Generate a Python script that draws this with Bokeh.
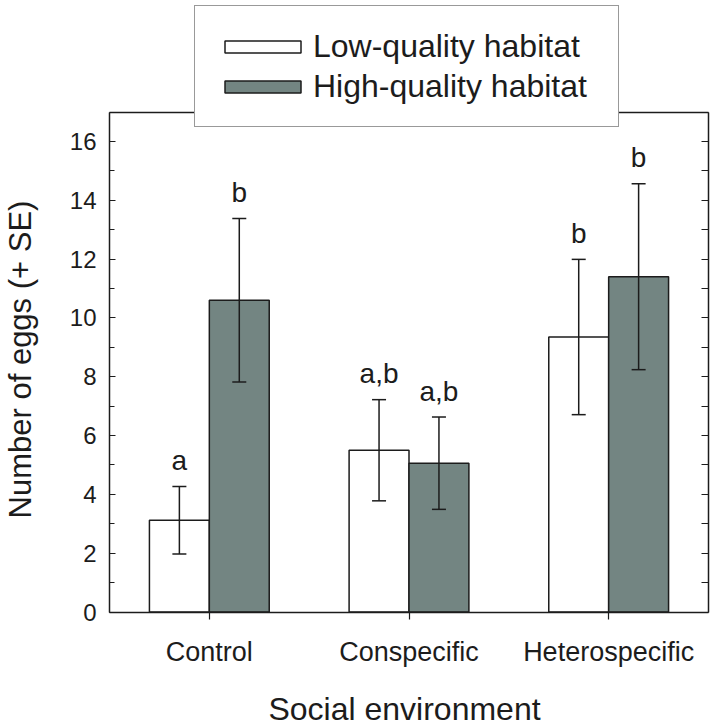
import math
from bokeh.plotting import figure
from bokeh.models import (ColumnDataSource, Range1d, LinearAxis, FixedTicker,
                          SingleIntervalTicker, Legend, LegendItem, Label)
from bokeh.transform import dodge
from bokeh.core.properties import value
from bokeh.embed import file_html
from bokeh.resources import INLINE

# ---- data ----
categories = ["Control", "Conspecific", "Heterospecific"]
series_names = ["Low-quality habitat", "High-quality habitat"]
low_mean = [3.12, 5.50, 9.35]
low_se = [1.15, 1.72, 2.64]
high_mean = [10.60, 5.06, 11.40]
high_se = [2.78, 1.57, 3.16]
low_letters = ["a", "a,b", "b"]
high_letters = ["b", "a,b", "b"]
x_title = "Social environment"
y_title = "Number of eggs (+ SE)"
y_min, y_max = 0, 17

FONT = "Liberation Sans"
INK = "#1c1c1c"
GREY = "#738582"

# ---- layout (pixels on the canvas) ----
W, H = 717, 727
LEFT_PX, RIGHT_PX = 109, 708          # frame left / right edges
ZERO_PX, PX_PER_UNIT = 611.5, 29.41   # y=0 line and vertical scale
n = len(categories)
xs = (RIGHT_PX - LEFT_PX) / n
x_start = -LEFT_PX / xs
x_end = n + (W - RIGHT_PX) / xs
y_start = -(H - ZERO_PX) / PX_PER_UNIT
y_end = ZERO_PX / PX_PER_UNIT

def xdata(px):
    return x_start + px / xs

def ydata(px):
    return (ZERO_PX - px) / PX_PER_UNIT

centers = [i + 0.5 for i in range(n)]

def make_src(means, ses, letters):
    return ColumnDataSource(dict(
        x=centers, top=means,
        upper=[m + s for m, s in zip(means, ses)],
        lower=[m - s for m, s in zip(means, ses)],
        letter=letters))

src_low = make_src(low_mean, low_se, low_letters)
src_high = make_src(high_mean, high_se, high_letters)

p = figure(x_range=Range1d(x_start, x_end), y_range=Range1d(y_start, y_end),
           width=W, height=H, output_backend="svg", toolbar_location=None,
           min_border_left=0, min_border_right=0, min_border_top=0,
           min_border_bottom=0, x_axis_location=None, y_axis_location=None)
p.xgrid.visible = False
p.ygrid.visible = False
p.outline_line_color = None
p.background_fill_color = "white"
p.border_fill_color = "white"

def style_line(a):
    a.axis_line_color = INK
    a.axis_line_width = 1.5
    a.major_tick_line_color = INK
    a.minor_tick_line_color = INK
    a.major_tick_line_width = 1.2
    a.minor_tick_line_width = 1.2

# left axis (at x = 0)
left = LinearAxis(ticker=SingleIntervalTicker(interval=2, num_minor_ticks=2),
                  fixed_location=0, bounds=(y_min, y_max))
left.major_tick_in = 6
left.major_tick_out = 0
left.minor_tick_in = 5
left.minor_tick_out = 0
left.major_label_standoff = 13
left.major_label_text_font = FONT
left.major_label_text_font_size = "24px"
left.major_label_text_color = INK
style_line(left)
p.add_layout(left, "left")

# right frame edge with inward ticks
right = LinearAxis(ticker=SingleIntervalTicker(interval=1, num_minor_ticks=0),
                   fixed_location=n, bounds=(y_min, y_max))
right.major_tick_in = 7
right.major_tick_out = 0
right.minor_tick_in = 0
right.minor_tick_out = 0
right.major_label_text_font_size = "1px"
right.major_label_text_color = None
style_line(right)
p.add_layout(right, "right")

# top frame edge
top = LinearAxis(ticker=FixedTicker(ticks=[]), fixed_location=y_max, bounds=(0, n))
top.major_tick_in = 0
top.major_tick_out = 0
top.minor_tick_in = 0
top.minor_tick_out = 0
top.major_label_text_font_size = "1px"
top.major_label_text_color = None
style_line(top)
p.add_layout(top, "above")

# bottom category axis (at y = 0)
bottom = LinearAxis(ticker=FixedTicker(ticks=centers, minor_ticks=[]),
                    fixed_location=0, bounds=(0, n),
                    major_label_overrides={c: lab for c, lab in zip(centers, categories)})
bottom.major_tick_in = 0
bottom.major_tick_out = 7
bottom.minor_tick_in = 0
bottom.minor_tick_out = 0
bottom.major_label_standoff = 18
bottom.major_label_text_font = FONT
bottom.major_label_text_font_size = "27px"
bottom.major_label_text_color = INK
style_line(bottom)
p.add_layout(bottom, "below")

# axis titles
p.add_layout(Label(x=xdata(404), y=ydata(708), text=x_title,
                   text_font=FONT, text_font_size="32px", text_color=INK,
                   text_align="center", text_baseline="alphabetic"))
p.add_layout(Label(x=xdata(20), y=ydata(359), text=y_title, angle=math.pi / 2,
                   text_font=FONT, text_font_size="31px", text_color=INK,
                   text_align="center", text_baseline="alphabetic"))

# bars, error bars and letters
renderers = []
for src, off, fill in [(src_low, -0.15, "white"), (src_high, 0.15, GREY)]:
    xd = dodge("x", off)
    r = p.vbar(x=xd, top="top", bottom=0, width=0.3, source=src,
               fill_color=fill, line_color=INK, line_width=1.5)
    renderers.append(r)
    p.segment(x0=xd, y0="lower", x1=xd, y1="upper", source=src,
              line_color=INK, line_width=1.5)
    p.scatter(x=xd, y="upper", marker="dash", size=14, source=src,
              line_color=INK, line_width=1.5)
    p.scatter(x=xd, y="lower", marker="dash", size=14, source=src,
              line_color=INK, line_width=1.5)
    p.text(x=xd, y="upper", text="letter", source=src, y_offset=-26,
           text_font=value(FONT), text_font_size=value("28px"),
           text_align="center", text_baseline="alphabetic", text_color=INK)

legend = Legend(items=[LegendItem(label=series_names[0], renderers=[renderers[0]]),
                       LegendItem(label=series_names[1], renderers=[renderers[1]])],
                location=(194, H - 127), orientation="vertical",
                glyph_width=95, glyph_height=15, label_standoff=3,
                label_text_font=FONT, label_text_font_size="32px",
                label_text_color=INK, label_height=40, label_width=285,
                spacing=0, padding=20, margin=0,
                border_line_color="#333333", border_line_width=1.5,
                background_fill_color="white", background_fill_alpha=1.0)
p.add_layout(legend)

open("out.html", "w").write(file_html(p, INLINE))
